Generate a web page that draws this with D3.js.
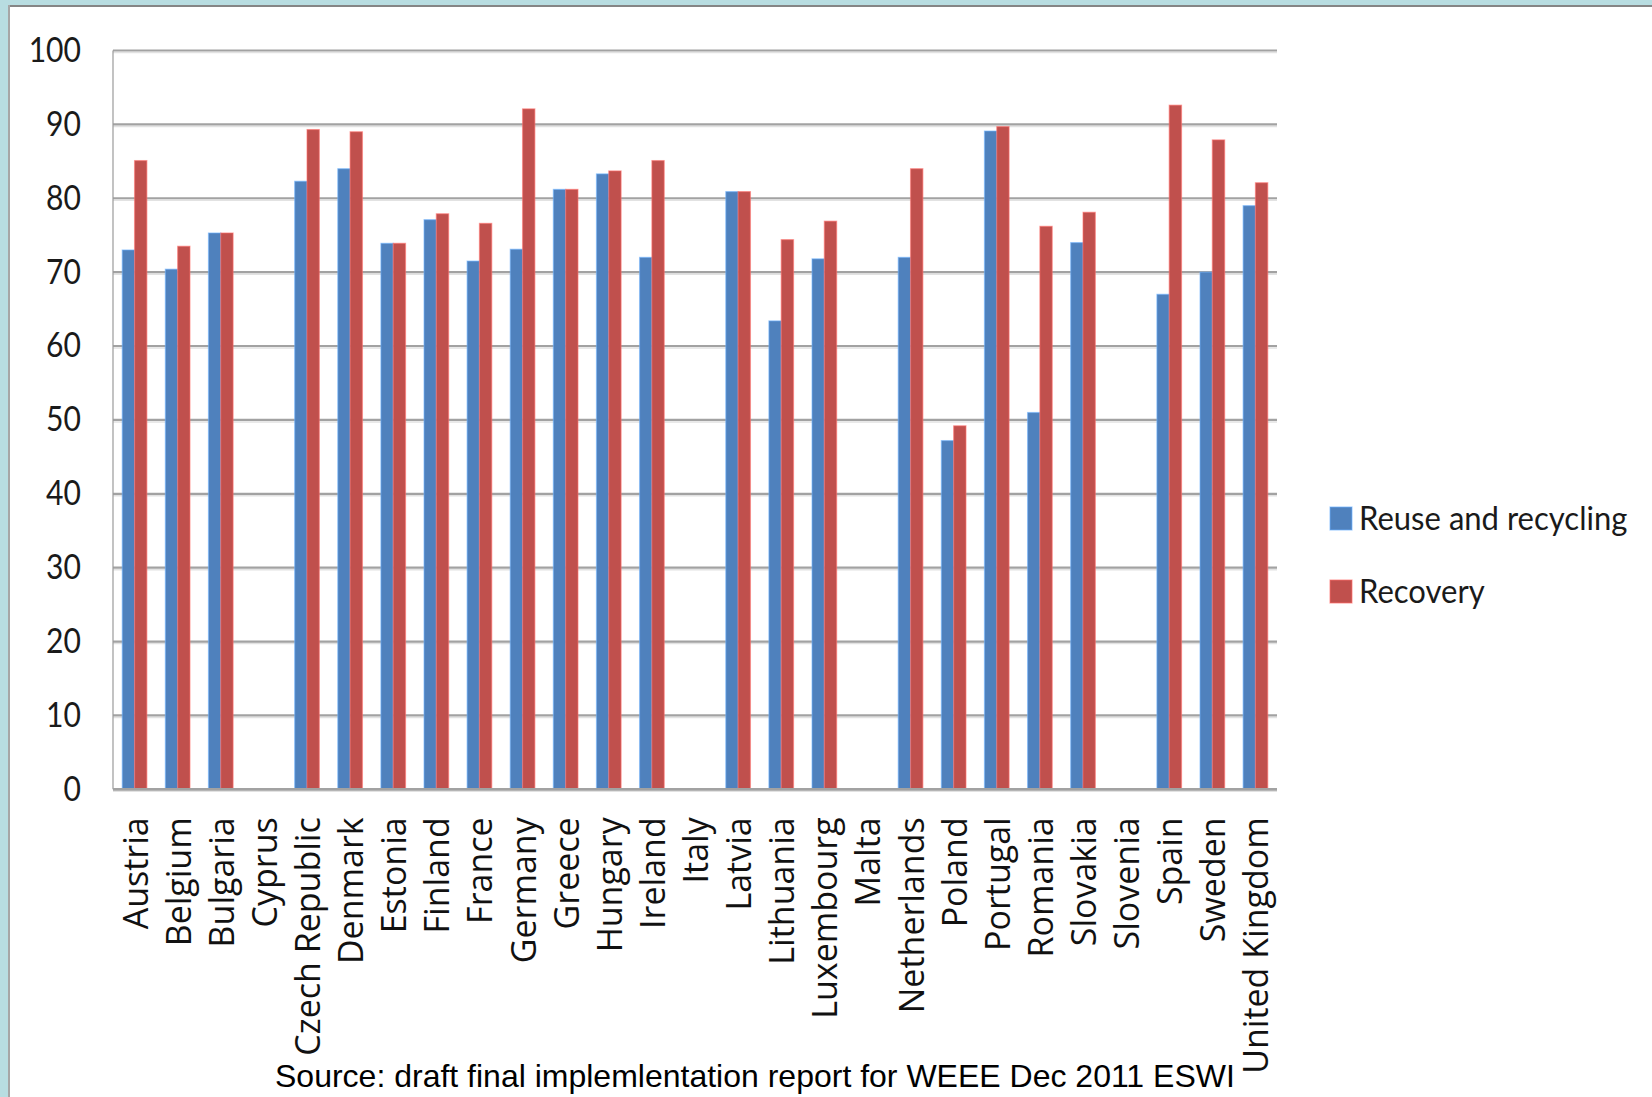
<!DOCTYPE html>
<html>
<head>
<meta charset="utf-8">
<script src="https://cdn.jsdelivr.net/npm/d3@7"></script>
<style>
  html, body { margin: 0; padding: 0; background: #fff; }
  svg { display: block; }
</style>
</head>
<body>
<svg id="chart" width="1652" height="1097"></svg>
<script>
const categories = ["Austria","Belgium","Bulgaria","Cyprus","Czech Republic","Denmark","Estonia","Finland","France","Germany","Greece","Hungary","Ireland","Italy","Latvia","Lithuania","Luxembourg","Malta","Netherlands","Poland","Portugal","Romania","Slovakia","Slovenia","Spain","Sweden","United Kingdom"];
const reuseRecycling = [73, 70.4, 75.3, null, 82.3, 84, 73.9, 77.1, 71.5, 73.1, 81.2, 83.3, 72, null, 80.9, 63.4, 71.8, null, 72, 47.2, 89.1, 51, 74, null, 67, 70, 79];
const recovery = [85.1, 73.5, 75.3, null, 89.3, 89, 73.9, 77.9, 76.6, 92.1, 81.2, 83.7, 85.1, null, 80.9, 74.4, 76.9, null, 84, 49.2, 89.7, 76.2, 78.1, null, 92.6, 87.9, 82.1];
const yTicks = [0, 10, 20, 30, 40, 50, 60, 70, 80, 90, 100];
const seriesNames = ["Reuse and recycling", "Recovery"];
const seriesColors = ["#4F81BD", "#C0504D"];
const sourceText = "Source: draft final implemlentation report for WEEE Dec 2011 ESWI";

(function () {
const svg = d3.select("#chart");
const W = 1652, H = 1097;
const pLeft = 113, pRight = 1277, pTop = 50.5, pBottom = 789.3;

// background + frame
svg.append("rect").attr("width", W).attr("height", H).attr("fill", "#fff");
svg.append("rect").attr("x", 0).attr("y", 0).attr("width", W).attr("height", 5).attr("fill", "#b8dde1");
svg.append("rect").attr("x", 0).attr("y", 0).attr("width", 8).attr("height", H).attr("fill", "#b8dde1");
svg.append("rect").attr("x", 8).attr("y", 5).attr("width", W - 8).attr("height", 2).attr("fill", "#858585");
svg.append("rect").attr("x", 8).attr("y", 5).attr("width", 2).attr("height", H - 5).attr("fill", "#a6a6a6");

const x = d3.scaleBand().domain(categories).range([pLeft, pRight]).paddingInner(0).paddingOuter(0);
const x1 = d3.scaleBand().domain([0, 1]).range([0, x.bandwidth()]).paddingInner(0).paddingOuter(0.75);
const y = d3.scaleLinear().domain([0, 100]).range([pBottom, pTop]);

// gridlines
const grid = svg.append("g");
grid.selectAll("line.shadow").data(yTicks).join("line")
  .attr("class", "shadow")
  .attr("x1", pLeft).attr("x2", pRight)
  .attr("y1", d => y(d) + 2).attr("y2", d => y(d) + 2)
  .attr("stroke", "#e2e2e2").attr("stroke-width", 1.5);
grid.selectAll("line.main").data(yTicks).join("line")
  .attr("class", "main")
  .attr("x1", pLeft).attr("x2", pRight)
  .attr("y1", d => y(d)).attr("y2", d => y(d))
  .attr("stroke", "#a2a2a2").attr("stroke-width", 2.2);

// left axis line
svg.append("line").attr("x1", pLeft).attr("x2", pLeft).attr("y1", pTop).attr("y2", pBottom)
  .attr("stroke", "#9a9a9a").attr("stroke-width", 1.2);

// bars
const series = [reuseRecycling, recovery];
series.forEach((vals, si) => {
  const c = d3.color(seriesColors[si]);
  svg.append("g").selectAll("rect")
    .data(categories.map((cat, i) => ({cat, v: vals[i]})).filter(d => d.v != null))
    .join("rect")
    .attr("x", d => x(d.cat) + x1(si))
    .attr("y", d => y(d.v))
    .attr("width", x1.bandwidth())
    .attr("height", d => y(0) - y(d.v))
    .attr("fill", seriesColors[si])
    .attr("stroke", c.brighter(0.9).formatHex())
    .attr("stroke-opacity", 0.55)
    .attr("stroke-width", 1.2);
});

// baseline
svg.append("line").attr("x1", pLeft).attr("x2", pRight).attr("y1", y(0)).attr("y2", y(0))
  .attr("stroke", "#a2a2a2").attr("stroke-width", 2.5);

// y axis labels
const yAxis = svg.append("g").attr("transform", `translate(${pLeft},0)`)
  .call(d3.axisLeft(y).tickValues(yTicks).tickSize(0).tickPadding(0));
yAxis.select(".domain").remove();
yAxis.selectAll("text")
  .attr("x", -32 / 0.86)
  .attr("dy", "0.34em")
  .attr("transform", "translate(0,-1) scale(0.86,1)")
  .attr("font-family", "Lato, 'Open Sans', sans-serif")
  .attr("font-size", 35)
  .attr("fill", "#1a1a1a");

// x axis labels
const xAxis = svg.append("g").attr("transform", `translate(0,${pBottom})`)
  .call(d3.axisBottom(x).tickSize(0).tickPadding(0));
xAxis.select(".domain").remove();
xAxis.selectAll("text")
  .attr("x", 0).attr("y", 0).attr("dy", 0)
  .attr("text-anchor", "end")
  .attr("transform", "translate(13,28) rotate(-90)")
  .attr("font-family", "'Open Sans', sans-serif")
  .attr("font-size", 34)
  .attr("fill", "#111");

// legend
const legend = svg.append("g");
const legendY = [530, 603];
seriesNames.forEach((name, i) => {
  legend.append("rect")
    .attr("x", 1330).attr("y", legendY[i] - 23)
    .attr("width", 22).attr("height", 23)
    .attr("fill", seriesColors[i])
    .attr("stroke", d3.color(seriesColors[i]).brighter(0.9).formatHex())
    .attr("stroke-opacity", 0.6).attr("stroke-width", 1.2);
  legend.append("text")
    .attr("x", 1359 / 0.97).attr("y", legendY[i])
    .attr("transform", "scale(0.97,1)")
    .attr("font-family", "Lato, 'Open Sans', sans-serif")
    .attr("font-size", 32)
    .attr("fill", "#1a1a1a")
    .text(name);
});

// source
svg.append("text")
  .attr("x", 275).attr("y", 1087)
  .attr("font-family", "'Liberation Sans', Arial, sans-serif")
  .attr("font-size", 32)
  .attr("fill", "#000")
  .text(sourceText);
})();
</script>
</body>
</html>
